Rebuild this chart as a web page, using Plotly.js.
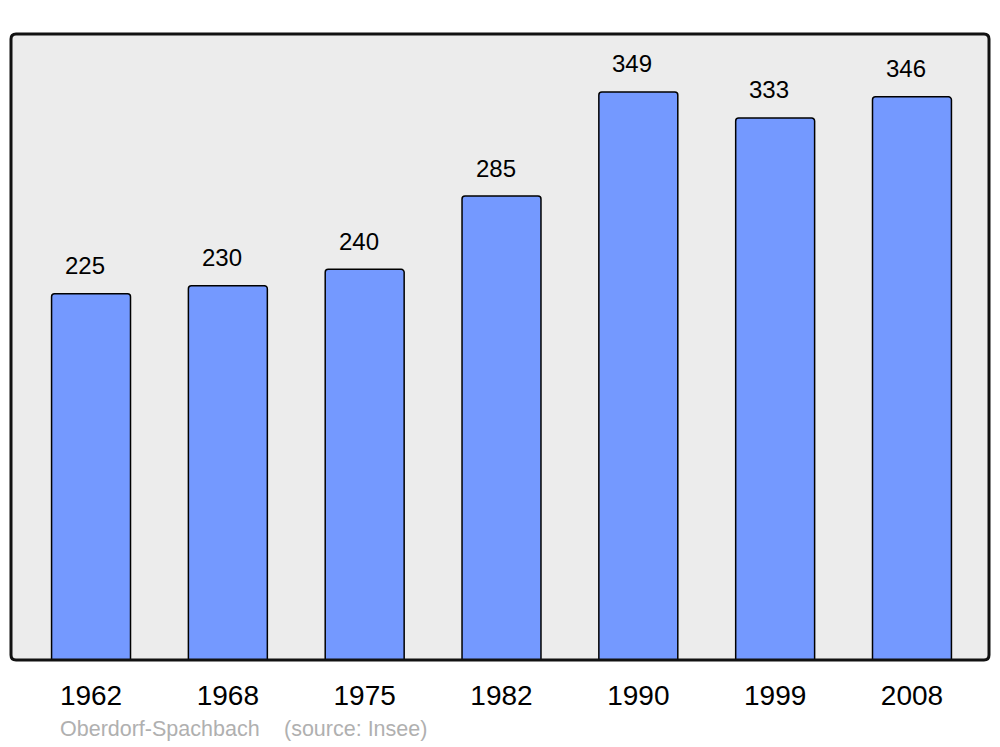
<!DOCTYPE html>
<html>
<head>
<meta charset="utf-8">
<script src="https://cdn.plot.ly/plotly-3.0.1.min.js"></script>
<style>html,body{margin:0;padding:0;background:#fff;}#chart{width:1000px;height:747px;}</style>
</head>
<body>
<div id="chart"></div>
<script>
const years = ["1962", "1968", "1975", "1982", "1990", "1999", "2008"];
const population = [225, 230, 240, 285, 349, 333, 346];
const sourceName = "Oberdorf-Spachbach";
const sourceNote = "(source: Insee)";

const idx = years.map((_, i) => i);
const FONT = "Liberation Sans, Arial, sans-serif";

const trace = {
  type: "bar",
  x: idx,
  y: population,
  width: 0.577,
  marker: {color: "#7499ff", line: {color: "#000", width: 1.5}, cornerradius: 3},
  hoverinfo: "skip"
};

const rx = 5 / 978, ry = 5 / 626;
const framePath = `M ${rx},0 L ${1-rx},0 Q 1,0 1,${ry} L 1,${1-ry} Q 1,1 ${1-rx},1 L ${rx},1 Q 0,1 0,${1-ry} L 0,${ry} Q 0,0 ${rx},0 Z`;

const annotations = population.map((v, i) => ({
  x: i, y: v, xref: "x", yref: "y", text: String(v), showarrow: false,
  yshift: 28, xshift: -6, yanchor: "middle", font: {family: FONT, size: 24, color: "#000"}
}));
annotations.push({
  xref: "paper", yref: "paper", x: (58 - 11) / 978, y: -(729 - 660) / 626,
  xanchor: "left", yanchor: "middle", text: sourceName, showarrow: false,
  font: {family: FONT, size: 21.5, color: "#b0b0b0"}
});
annotations.push({
  xref: "paper", yref: "paper", x: (282 - 11) / 978, y: -(729 - 660) / 626,
  xanchor: "left", yanchor: "middle", text: sourceNote, showarrow: false,
  font: {family: FONT, size: 21.5, color: "#b0b0b0"}
});

const layout = {
  width: 1000, height: 747,
  margin: {l: 11, r: 11, t: 34, b: 87, pad: 0},
  paper_bgcolor: "#ffffff",
  plot_bgcolor: "#ececec",
  showlegend: false,
  xaxis: {
    range: [-0.585, 6.563], tickvals: idx, ticktext: years,
    showgrid: false, zeroline: false, showline: false,
    ticks: "outside", ticklen: 10, tickcolor: "rgba(0,0,0,0)",
    tickfont: {family: FONT, size: 28, color: "#000"}, fixedrange: true
  },
  yaxis: {
    range: [0, 384.6], showgrid: false, zeroline: false, showline: false,
    showticklabels: false, ticks: "", fixedrange: true
  },
  shapes: [{type: "path", xref: "paper", yref: "paper", path: framePath,
    line: {color: "#111", width: 3}, fillcolor: "rgba(0,0,0,0)", layer: "above"}],
  annotations: annotations
};

Plotly.newPlot("chart", [trace], layout, {staticPlot: true, displayModeBar: false});
</script>
</body>
</html>
